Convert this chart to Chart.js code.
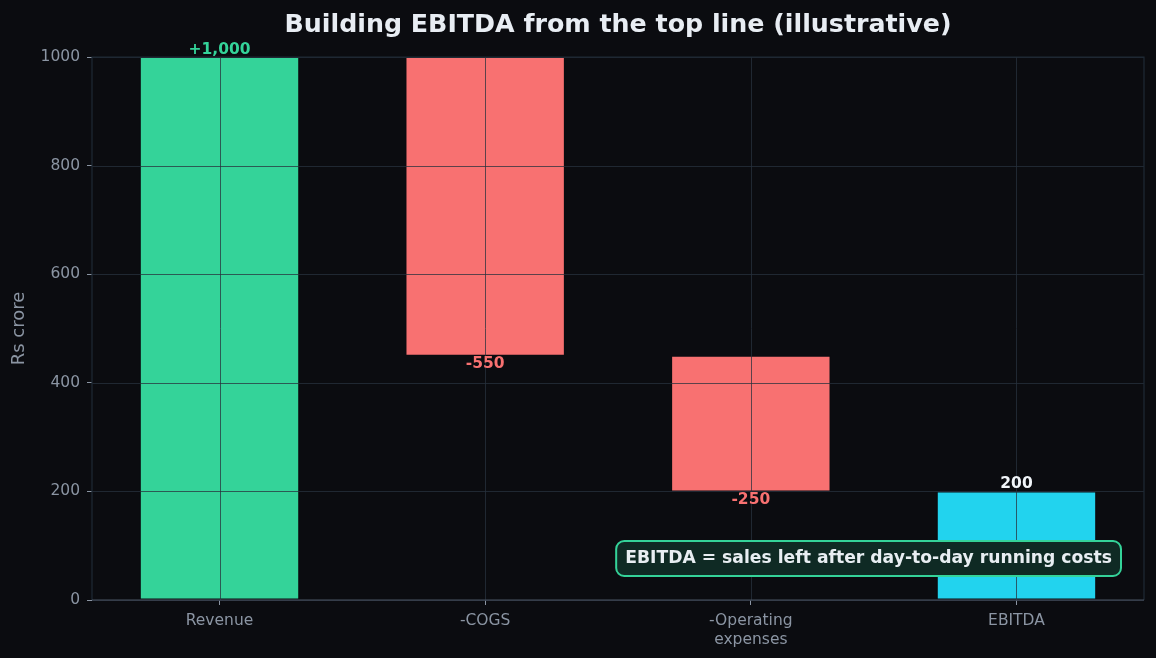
<!DOCTYPE html>
<html>
<head>
<meta charset="utf-8">
<script src="https://cdn.jsdelivr.net/npm/chart.js@4.4.1/dist/chart.umd.min.js"></script>
<style>
  html, body { margin: 0; padding: 0; background: #0b0c10; }
  canvas { display: block; }
</style>
</head>
<body>
<canvas id="chart" width="1156" height="658"></canvas>
<script>
// data
const categories = ["Revenue", "-COGS", "-Operating expenses", "EBITDA"];
const tickLabels = ["Revenue", "-COGS", ["-Operating", "expenses"], "EBITDA"];
const barBottoms = [0, 450, 200, 0];
const barTops = [1000, 1000, 450, 200];
const valueLabels = ["+1,000", "-550", "-250", "200"];
const yTicks = [0, 200, 400, 600, 800, 1000];

const BG = "#0b0c10";
const GREEN = "#34d399";
const RED = "#f87171";
const CYAN = "#22d3ee";
const TICK = "#8b95a3";
const FONT = "'DejaVu Sans', Verdana, sans-serif";

const barColors = [GREEN, RED, RED, CYAN];
const labelColors = [GREEN, RED, RED, "#f1f5f9"];
const labelAbove = [true, false, false, true];

const overlay = {
  id: "overlay",
  afterDatasetsDraw(chart) {
    const { ctx, chartArea: a, scales } = chart;
    const x = scales.x, y = scales.y;
    ctx.save();

    // grid over the bars
    ctx.strokeStyle = "rgba(40,50,62,0.75)";
    ctx.lineWidth = 1;
    yTicks.forEach(v => {
      const py = Math.round(y.getPixelForValue(v)) + 0.5;
      ctx.beginPath(); ctx.moveTo(a.left, py); ctx.lineTo(a.right, py); ctx.stroke();
    });
    categories.forEach((c, i) => {
      const px = Math.round(x.getPixelForValue(i)) + 0.5;
      ctx.beginPath(); ctx.moveTo(px, a.top); ctx.lineTo(px, a.bottom); ctx.stroke();
    });

    // spines
    ctx.strokeStyle = "#1f2a35";
    ctx.lineWidth = 1.2;
    ctx.beginPath();
    ctx.moveTo(a.left, a.bottom); ctx.lineTo(a.left, a.top);
    ctx.lineTo(a.right, a.top); ctx.lineTo(a.right, a.bottom);
    ctx.stroke();
    ctx.strokeStyle = "#4b5563";
    ctx.beginPath(); ctx.moveTo(a.left, a.bottom); ctx.lineTo(a.right, a.bottom); ctx.stroke();

    // value labels
    ctx.font = "bold 15.5px " + FONT;
    ctx.textAlign = "center";
    ctx.textBaseline = "middle";
    valueLabels.forEach((t, i) => {
      const px = x.getPixelForValue(i);
      const py = labelAbove[i]
        ? y.getPixelForValue(barTops[i]) - 7
        : y.getPixelForValue(barBottoms[i]) + 8.5;
      ctx.fillStyle = labelColors[i];
      ctx.fillText(t, px, py);
    });

    // annotation box
    const note = "EBITDA = sales left after day-to-day running costs";
    ctx.font = "bold 17.2px " + FONT;
    const tw = ctx.measureText(note).width;
    const bw = tw + 18, bh = 35;
    const bx = a.right - 23 - bw;
    const by = a.bottom - 24 - bh;
    ctx.beginPath();
    ctx.roundRect(bx, by, bw, bh, 8);
    ctx.fillStyle = "#0f2a24";
    ctx.fill();
    ctx.strokeStyle = GREEN;
    ctx.lineWidth = 2;
    ctx.stroke();
    ctx.fillStyle = "#e8eef2";
    ctx.fillText(note, bx + bw / 2, by + bh / 2 + 0.5);

    // title
    ctx.font = "bold 25.3px " + FONT;
    ctx.fillStyle = "#e8edf3";
    ctx.fillText("Building EBITDA from the top line (illustrative)", (a.left + a.right) / 2, 25);
    ctx.restore();
  }
};

new Chart(document.getElementById("chart"), {
  type: "bar",
  data: {
    datasets: [{
      data: categories.map((c, i) => ({ x: i, y: [barBottoms[i], barTops[i]] })),
      backgroundColor: barColors,
      borderColor: BG,
      borderWidth: 1,
      borderSkipped: false,
      categoryPercentage: 0.6,
      barPercentage: 1
    }]
  },
  options: {
    responsive: false,
    animation: false,
    layout: { padding: { top: 57, right: 12, left: 0, bottom: 0 } },
    plugins: { legend: { display: false }, tooltip: { enabled: false } },
    scales: {
      x: {
        type: "linear",
        min: -0.48,
        max: 3.48,
        offset: false,
        afterBuildTicks: s => { s.ticks = categories.map((c, i) => ({ value: i })); },
        afterFit: s => { s.height = 58; },
        border: { display: false },
        grid: { offset: false, drawOnChartArea: false, drawTicks: true, tickLength: 5, color: TICK },
        ticks: {
          autoSkip: false,
          maxRotation: 0,
          padding: 7,
          color: TICK,
          font: { family: FONT, size: 15.5 },
          callback: v => tickLabels[v]
        }
      },
      y: {
        min: 0,
        max: 1000,
        afterBuildTicks: s => { s.ticks = yTicks.map(v => ({ value: v })); },
        afterFit: s => { s.width = 92; },
        border: { display: false },
        grid: { drawOnChartArea: false, drawTicks: true, tickLength: 5, color: TICK },
        ticks: {
          padding: 7,
          color: TICK,
          font: { family: FONT, size: 15.5 },
          callback: v => String(v)
        },
        title: {
          display: true,
          text: "Rs crore",
          color: TICK,
          font: { family: FONT, size: 18 },
          padding: { top: 9, bottom: 0 }
        }
      }
    }
  },
  plugins: [overlay]
});
</script>
</body>
</html>
